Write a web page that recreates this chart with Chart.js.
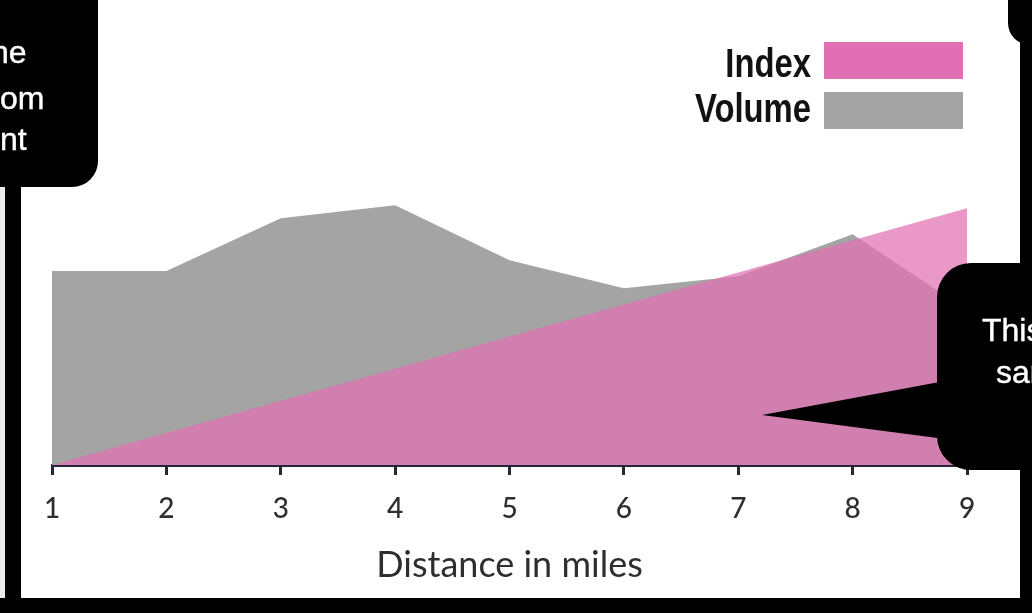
<!DOCTYPE html>
<html>
<head>
<meta charset="utf-8">
<script src="https://cdn.jsdelivr.net/npm/chart.js@4.4.0/dist/chart.umd.min.js"></script>
<style>
  html, body { margin: 0; padding: 0; background: #fff; overflow: hidden; width: 1032px; height: 613px; position: relative; }
  #wrap { position: absolute; left: 0; top: 0; width: 1032px; height: 613px; }
  .blk { position: absolute; background: #000; }
  .note { position: absolute; color: #fff; font-family: "Liberation Sans", Arial, sans-serif; font-size: 32px; line-height: 43px; white-space: nowrap; -webkit-text-stroke: 0.4px #fff; }
  svg { position: absolute; left: 0; top: 0; }
</style>
</head>
<body>
<div id="wrap"><canvas id="c" width="1032" height="613"></canvas></div>

<!-- frame around the slide -->
<div class="blk" style="left:0;top:187px;width:5px;height:426px;background:#ececec"></div>
<div class="blk" style="left:5px;top:0;width:16px;height:613px"></div>
<div class="blk" style="left:0;top:598px;width:1032px;height:15px"></div>
<div class="blk" style="left:1020px;top:0;width:12px;height:613px"></div>

<!-- speech bubbles -->
<div class="blk" style="left:-40px;top:-40px;width:138px;height:227px;border-radius:26px"></div>
<div class="blk" style="left:1008px;top:-40px;width:80px;height:85px;border-radius:22px"></div>
<div class="blk" style="left:937px;top:263px;width:140px;height:207px;border-radius:34px"></div>
<svg width="1032" height="613"><polygon points="762,415 945,381 945,439" fill="#000"/></svg>

<div class="note" style="left:-9px;top:31px">ne</div>
<div class="note" style="left:0px;top:77px">om</div>
<div class="note" style="left:0px;top:118px">nt</div>
<div class="note" style="left:982px;top:309px">This</div>
<div class="note" style="left:996px;top:351px">sam</div>

<script>
// Distance buckets along the x axis
const distances = ['1', '2', '3', '4', '5', '6', '7', '8', '9'];
// Series values
const indexValues = [0, 10, 20, 30, 40, 50, 60, 70, 80];
const volumeValues = [60.4, 60.4, 76.9, 80.9, 63.8, 55.1, 58.8, 71.9, 48.2];
const seriesNames = ['Index', 'Volume'];
const seriesColors = ['#E070B3', '#A4A4A4'];
const seriesFills = ['rgba(224,112,179,0.72)', '#A4A4A4'];
const axisTitle = 'Distance in miles';

// Legend stacked top-right: condensed bold label right-aligned, swatch to its right
const sideLegend = {
  id: 'sideLegend',
  afterDraw(chart) {
    const ctx = chart.ctx;
    const rows = [{ base: 77, top: 42 }, { base: 122, top: 92 }];
    chart.data.datasets.forEach((ds, i) => {
      ctx.save();
      ctx.translate(811, rows[i].base);
      ctx.scale(0.82, 1);
      ctx.font = 'bold 40px "Liberation Sans", Arial, sans-serif';
      ctx.textAlign = 'right';
      ctx.textBaseline = 'alphabetic';
      ctx.fillStyle = '#121212';
      ctx.fillText(ds.label, 0, 0);
      ctx.restore();
      ctx.fillStyle = seriesColors[i];
      ctx.fillRect(824, rows[i].top, 139, 37);
    });
  }
};

new Chart(document.getElementById('c'), {
  type: 'line',
  data: {
    labels: distances,
    datasets: [
      { label: seriesNames[0], data: indexValues, backgroundColor: seriesFills[0], fill: 'origin', borderWidth: 0 },
      { label: seriesNames[1], data: volumeValues, backgroundColor: seriesFills[1], fill: 'origin', borderWidth: 0 }
    ]
  },
  options: {
    responsive: false,
    animation: false,
    devicePixelRatio: 1,
    layout: { padding: { left: 52, right: 65, top: 144, bottom: 20 } },
    plugins: { legend: { display: false }, tooltip: { enabled: false } },
    elements: { point: { radius: 0 }, line: { tension: 0, borderWidth: 0 } },
    scales: {
      x: {
        offset: false,
        grid: { display: true, drawOnChartArea: false, drawTicks: true, tickLength: 10, tickWidth: 3, tickColor: '#2a2438', offset: false },
        border: { display: true, color: '#2a2438', width: 3 },
        ticks: { color: '#2e2e2e', font: { family: 'Lato', size: 28, weight: '500' }, padding: 17, maxRotation: 0, autoSkip: false },
        title: { display: true, text: axisTitle, color: '#2e2e2e', font: { family: 'Lato', size: 36 }, padding: { top: 0, bottom: 6 } },
        afterFit(scale) { scale.height = 128; }
      },
      y: { display: false, min: 0, max: 100 }
    }
  },
  plugins: [sideLegend]
});
</script>
</body>
</html>
